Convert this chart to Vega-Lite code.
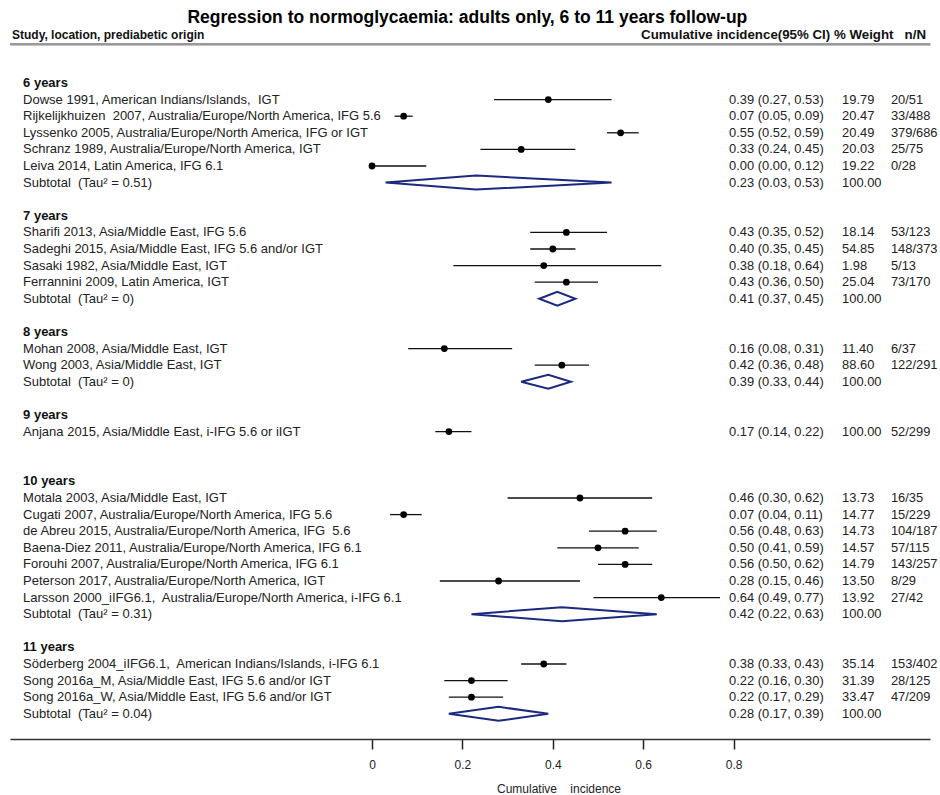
{
  "$schema": "https://vega.github.io/schema/vega-lite/v6.json",
  "width": 920,
  "height": 739,
  "autosize": {"type": "none"},
  "padding": {"left": 10, "right": 10, "top": 0, "bottom": 56},
  "background": "white",
  "config": {"view": {"stroke": null}, "font": "Liberation Sans"},
  "datasets": {
    "rows": [
      {"row": 0, "kind": "group", "label": "6 years"},
      {"row": 1, "kind": "study", "label": "Dowse 1991, American Indians/Islands,\u00a0 IGT", "est": 0.39, "lo": 0.27, "hi": 0.53, "ci": "0.39 (0.27, 0.53)", "w": "19.79", "n": "20/51"},
      {"row": 2, "kind": "study", "label": "Rijkelijkhuizen\u00a0 2007, Australia/Europe/North America, IFG 5.6", "est": 0.07, "lo": 0.05, "hi": 0.09, "ci": "0.07 (0.05, 0.09)", "w": "20.47", "n": "33/488"},
      {"row": 3, "kind": "study", "label": "Lyssenko 2005, Australia/Europe/North America, IFG or IGT", "est": 0.55, "lo": 0.52, "hi": 0.59, "ci": "0.55 (0.52, 0.59)", "w": "20.49", "n": "379/686"},
      {"row": 4, "kind": "study", "label": "Schranz 1989, Australia/Europe/North America, IGT", "est": 0.33, "lo": 0.24, "hi": 0.45, "ci": "0.33 (0.24, 0.45)", "w": "20.03", "n": "25/75"},
      {"row": 5, "kind": "study", "label": "Leiva 2014, Latin America, IFG 6.1", "est": 0.0, "lo": 0.0, "hi": 0.12, "ci": "0.00 (0.00, 0.12)", "w": "19.22", "n": "0/28"},
      {"row": 6, "kind": "subtotal", "label": "Subtotal\u00a0 (Tau² = 0.51)", "est": 0.23, "lo": 0.03, "hi": 0.53, "ci": "0.23 (0.03, 0.53)", "w": "100.00", "n": ""},
      {"row": 8, "kind": "group", "label": "7 years"},
      {"row": 9, "kind": "study", "label": "Sharifi 2013, Asia/Middle East, IFG 5.6", "est": 0.43, "lo": 0.35, "hi": 0.52, "ci": "0.43 (0.35, 0.52)", "w": "18.14", "n": "53/123"},
      {"row": 10, "kind": "study", "label": "Sadeghi 2015, Asia/Middle East, IFG 5.6 and/or IGT", "est": 0.40, "lo": 0.35, "hi": 0.45, "ci": "0.40 (0.35, 0.45)", "w": "54.85", "n": "148/373"},
      {"row": 11, "kind": "study", "label": "Sasaki 1982, Asia/Middle East, IGT", "est": 0.38, "lo": 0.18, "hi": 0.64, "ci": "0.38 (0.18, 0.64)", "w": "1.98", "n": "5/13"},
      {"row": 12, "kind": "study", "label": "Ferrannini 2009, Latin America, IGT", "est": 0.43, "lo": 0.36, "hi": 0.50, "ci": "0.43 (0.36, 0.50)", "w": "25.04", "n": "73/170"},
      {"row": 13, "kind": "subtotal", "label": "Subtotal\u00a0 (Tau² = 0)", "est": 0.41, "lo": 0.37, "hi": 0.45, "ci": "0.41 (0.37, 0.45)", "w": "100.00", "n": ""},
      {"row": 15, "kind": "group", "label": "8 years"},
      {"row": 16, "kind": "study", "label": "Mohan 2008, Asia/Middle East, IGT", "est": 0.16, "lo": 0.08, "hi": 0.31, "ci": "0.16 (0.08, 0.31)", "w": "11.40", "n": "6/37"},
      {"row": 17, "kind": "study", "label": "Wong 2003, Asia/Middle East, IGT", "est": 0.42, "lo": 0.36, "hi": 0.48, "ci": "0.42 (0.36, 0.48)", "w": "88.60", "n": "122/291"},
      {"row": 18, "kind": "subtotal", "label": "Subtotal\u00a0 (Tau² = 0)", "est": 0.39, "lo": 0.33, "hi": 0.44, "ci": "0.39 (0.33, 0.44)", "w": "100.00", "n": ""},
      {"row": 20, "kind": "group", "label": "9 years"},
      {"row": 21, "kind": "study", "label": "Anjana 2015, Asia/Middle East, i-IFG 5.6 or iIGT", "est": 0.17, "lo": 0.14, "hi": 0.22, "ci": "0.17 (0.14, 0.22)", "w": "100.00", "n": "52/299"},
      {"row": 24, "kind": "group", "label": "10 years"},
      {"row": 25, "kind": "study", "label": "Motala 2003, Asia/Middle East, IGT", "est": 0.46, "lo": 0.30, "hi": 0.62, "ci": "0.46 (0.30, 0.62)", "w": "13.73", "n": "16/35"},
      {"row": 26, "kind": "study", "label": "Cugati 2007, Australia/Europe/North America, IFG 5.6", "est": 0.07, "lo": 0.04, "hi": 0.11, "ci": "0.07 (0.04, 0.11)", "w": "14.77", "n": "15/229"},
      {"row": 27, "kind": "study", "label": "de Abreu 2015, Australia/Europe/North America, IFG\u00a0 5.6", "est": 0.56, "lo": 0.48, "hi": 0.63, "ci": "0.56 (0.48, 0.63)", "w": "14.73", "n": "104/187"},
      {"row": 28, "kind": "study", "label": "Baena-Diez 2011, Australia/Europe/North America, IFG 6.1", "est": 0.50, "lo": 0.41, "hi": 0.59, "ci": "0.50 (0.41, 0.59)", "w": "14.57", "n": "57/115"},
      {"row": 29, "kind": "study", "label": "Forouhi 2007, Australia/Europe/North America, IFG 6.1", "est": 0.56, "lo": 0.50, "hi": 0.62, "ci": "0.56 (0.50, 0.62)", "w": "14.79", "n": "143/257"},
      {"row": 30, "kind": "study", "label": "Peterson 2017, Australia/Europe/North America, IGT", "est": 0.28, "lo": 0.15, "hi": 0.46, "ci": "0.28 (0.15, 0.46)", "w": "13.50", "n": "8/29"},
      {"row": 31, "kind": "study", "label": "Larsson 2000_iIFG6.1,\u00a0 Australia/Europe/North America, i-IFG 6.1", "est": 0.64, "lo": 0.49, "hi": 0.77, "ci": "0.64 (0.49, 0.77)", "w": "13.92", "n": "27/42"},
      {"row": 32, "kind": "subtotal", "label": "Subtotal\u00a0 (Tau² = 0.31)", "est": 0.42, "lo": 0.22, "hi": 0.63, "ci": "0.42 (0.22, 0.63)", "w": "100.00", "n": ""},
      {"row": 34, "kind": "group", "label": "11 years"},
      {"row": 35, "kind": "study", "label": "Söderberg 2004_iIFG6.1,\u00a0 American Indians/Islands, i-IFG 6.1", "est": 0.38, "lo": 0.33, "hi": 0.43, "ci": "0.38 (0.33, 0.43)", "w": "35.14", "n": "153/402"},
      {"row": 36, "kind": "study", "label": "Song 2016a_M, Asia/Middle East, IFG 5.6 and/or IGT", "est": 0.22, "lo": 0.16, "hi": 0.30, "ci": "0.22 (0.16, 0.30)", "w": "31.39", "n": "28/125"},
      {"row": 37, "kind": "study", "label": "Song 2016a_W, Asia/Middle East, IFG 5.6 and/or IGT", "est": 0.22, "lo": 0.17, "hi": 0.29, "ci": "0.22 (0.17, 0.29)", "w": "33.47", "n": "47/209"},
      {"row": 38, "kind": "subtotal", "label": "Subtotal\u00a0 (Tau² = 0.04)", "est": 0.28, "lo": 0.17, "hi": 0.39, "ci": "0.28 (0.17, 0.39)", "w": "100.00", "n": ""}
    ]
  },
  "data": {"name": "rows"},
  "layer": [
    {
      "transform": [{"filter": "datum.kind === 'study'"}],
      "mark": {"type": "rule", "color": "#111", "strokeWidth": 1.3},
      "encoding": {
        "x": {
          "field": "lo", "type": "quantitative",
          "scale": {"domain": [-0.8009, 1.2345], "nice": false, "zero": false},
          "axis": {
            "values": [0, 0.2, 0.4, 0.6, 0.8], "format": ".1~f", "grid": false,
            "domainColor": "#333", "domainWidth": 1.5,
            "tickColor": "#222", "tickSize": 10, "tickWidth": 1.5,
            "labelFont": "Liberation Sans", "labelFontSize": 12, "labelColor": "#222", "labelPadding": 10,
            "title": "Cumulative\u00a0\u00a0\u00a0 incidence", "titleFont": "Liberation Sans", "titleFontSize": 12,
            "titleFontWeight": "normal", "titleColor": "#222",
            "titleX": 548.5, "titleY": 49, "titleAlign": "center", "titleBaseline": "middle"
          }
        },
        "x2": {"field": "hi"},
        "y": {
          "field": "row", "type": "quantitative",
          "scale": {"domain": [-5, 39.518], "reverse": true, "nice": false, "zero": false},
          "axis": {
            "values": [-2.35], "grid": true, "gridColor": "#888", "gridWidth": 2, "gridOpacity": 1,
            "domain": false, "ticks": false, "labels": false, "title": null
          }
        }
      }
    },
    {
      "transform": [{"filter": "datum.row === 0"}],
      "mark": {"type": "rule", "color": "#999", "strokeWidth": 2, "yOffset": -39},
      "encoding": {
        "x": {"datum": -0.8009, "type": "quantitative"},
        "x2": {"datum": 1.2345},
        "y": {"field": "row", "type": "quantitative"}
      }
    },
    {
      "transform": [{"filter": "datum.kind === 'study'"}],
      "mark": {"type": "point", "filled": true, "color": "#000", "size": 46, "opacity": 1},
      "encoding": {
        "x": {"field": "est", "type": "quantitative"},
        "y": {"field": "row", "type": "quantitative"}
      }
    },
    {
      "transform": [
        {"filter": "datum.kind === 'subtotal'"},
        {"fold": ["lo", "est", "hi"], "as": ["key", "value"]}
      ],
      "mark": {
        "type": "area", "fill": "white", "fillOpacity": 1, "stroke": "#1b2a80", "strokeWidth": 2,
        "yOffset": {"expr": "datum.key === 'est' ? -7 : 0"},
        "y2Offset": {"expr": "datum.key === 'est' ? 7 : 0"}
      },
      "encoding": {
        "x": {"field": "value", "type": "quantitative"},
        "y": {"field": "row", "type": "quantitative", "stack": null},
        "y2": {"field": "row"},
        "detail": {"field": "row", "type": "nominal"}
      }
    },
    {
      "transform": [{"filter": "datum.kind === 'group'"}],
      "mark": {"type": "text", "align": "left", "baseline": "middle", "fontSize": 13, "fontWeight": "bold", "color": "#111"},
      "encoding": {
        "x": {"datum": -0.772, "type": "quantitative"},
        "y": {"field": "row", "type": "quantitative"},
        "text": {"field": "label"}
      }
    },
    {
      "transform": [{"filter": "datum.kind !== 'group'"}],
      "mark": {"type": "text", "align": "left", "baseline": "middle", "fontSize": 13, "color": "#222"},
      "encoding": {
        "x": {"datum": -0.772, "type": "quantitative"},
        "y": {"field": "row", "type": "quantitative"},
        "text": {"field": "label"}
      }
    },
    {
      "transform": [{"filter": "datum.kind !== 'group'"}],
      "mark": {"type": "text", "align": "left", "baseline": "middle", "fontSize": 12.9, "color": "#222"},
      "encoding": {
        "x": {"datum": 0.79, "type": "quantitative"},
        "y": {"field": "row", "type": "quantitative"},
        "text": {"field": "ci"}
      }
    },
    {
      "transform": [{"filter": "datum.kind !== 'group'"}],
      "mark": {"type": "text", "align": "left", "baseline": "middle", "fontSize": 12.9, "color": "#222"},
      "encoding": {
        "x": {"datum": 1.04, "type": "quantitative"},
        "y": {"field": "row", "type": "quantitative"},
        "text": {"field": "w"}
      }
    },
    {
      "transform": [{"filter": "datum.kind === 'study'"}],
      "mark": {"type": "text", "align": "left", "baseline": "middle", "fontSize": 12.9, "color": "#222"},
      "encoding": {
        "x": {"datum": 1.148, "type": "quantitative"},
        "y": {"field": "row", "type": "quantitative"},
        "text": {"field": "n"}
      }
    },
    {
      "data": {"values": [{}]},
      "mark": {"type": "text", "text": "Regression to normoglycaemia:  adults only,  6 to 11 years follow-up", "align": "center", "baseline": "middle", "fontSize": 17.5, "fontWeight": "bold", "color": "#000"},
      "encoding": {
        "x": {"datum": 0.211, "type": "quantitative"},
        "y": {"datum": -3.916, "type": "quantitative"}
      }
    },
    {
      "data": {"values": [{}]},
      "mark": {"type": "text", "text": "Study, location, prediabetic origin", "align": "left", "baseline": "middle", "fontSize": 12, "fontWeight": "bold", "color": "#111"},
      "encoding": {
        "x": {"datum": -0.7965, "type": "quantitative"},
        "y": {"datum": -2.91, "type": "quantitative"}
      }
    },
    {
      "data": {"values": [{}]},
      "mark": {"type": "text", "text": "Cumulative incidence(95% CI) % Weight\u00a0\u00a0 n/N", "align": "right", "baseline": "middle", "fontSize": 13.3, "fontWeight": "bold", "color": "#111"},
      "encoding": {
        "x": {"datum": 1.2257, "type": "quantitative"},
        "y": {"datum": -2.91, "type": "quantitative"}
      }
    }
  ]
}
